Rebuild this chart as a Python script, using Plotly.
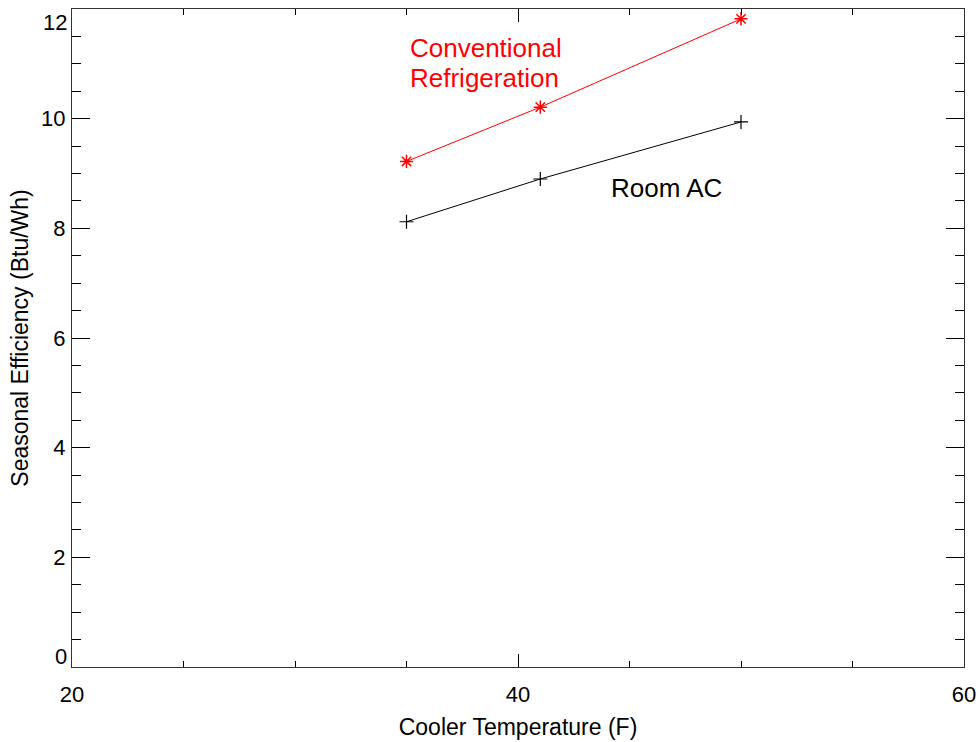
import plotly.graph_objects as go

temps = [35, 41, 50]
conventional = [9.22, 10.21, 11.82]
room_ac = [8.12, 8.9, 9.94]

y_ticks = [0, 2, 4, 6, 8, 10, 12]
x_ticks = [20, 40, 60]

label_conv_lines = ["Conventional", "Refrigeration"]
label_room = "Room AC"

FONT = "Liberation Sans, Arial, Helvetica, sans-serif"

fig = go.Figure()
fig.add_trace(go.Scatter(
    x=temps, y=conventional, mode="lines+markers",
    line=dict(color="red", width=1),
    marker=dict(symbol="asterisk-open", size=11, color="red", line=dict(color="red", width=1.5)),
    showlegend=False, hoverinfo="x+y"))
fig.add_trace(go.Scatter(
    x=temps, y=room_ac, mode="lines+markers",
    line=dict(color="black", width=1),
    marker=dict(symbol="cross-thin-open", size=10, color="black", line=dict(color="black", width=1.2)),
    showlegend=False, hoverinfo="x+y"))

for i, txt in enumerate(label_conv_lines):
    fig.add_annotation(x=35.05, y=11.29 - 0.55 * i, xref="x", yref="y", text=txt, showarrow=False,
                       xanchor="left", yanchor="middle", align="left",
                       font=dict(family=FONT, size=26, color="red"))
fig.add_annotation(x=44.1, y=8.74, xref="x", yref="y", text=label_room, showarrow=False,
                   xanchor="left", yanchor="middle", align="left",
                   font=dict(family=FONT, size=26, color="black"))

# end tick labels of the y axis sit inside the axis span (as in the reference)
y_min, y_max = y_ticks[0], y_ticks[-1]
fig.add_annotation(x=0, y=y_max, xref="paper", yref="y", text=str(y_max), showarrow=False,
                   xanchor="right", yanchor="top", xshift=-3, yshift=1,
                   font=dict(family=FONT, size=22, color="black"))
fig.add_annotation(x=0, y=y_min, xref="paper", yref="y", text=str(y_min), showarrow=False,
                   xanchor="right", yanchor="bottom", xshift=-3, yshift=-4,
                   font=dict(family=FONT, size=22, color="black"))
y_ticktext = ["" if v in (y_min, y_max) else str(v) for v in y_ticks]

axis_common = dict(
    showgrid=False, zeroline=False, showline=True, linecolor="#333", linewidth=1,
    mirror="ticks", ticks="inside", tickcolor="black", tickwidth=1,
    tickfont=dict(family=FONT, size=22, color="black"),
    automargin=False, ticklabeloverflow="allow",
)

fig.update_xaxes(range=[20, 60], tickvals=x_ticks, ticklen=13,
                 minor=dict(dtick=5, ticklen=6, ticks="inside", tickcolor="black"),
                 title=dict(text="Cooler Temperature (F)", font=dict(family=FONT, size=23, color="black"), standoff=12),
                 ticklabelstandoff=8, **axis_common)
fig.update_yaxes(range=[0, 12], tickvals=y_ticks, ticktext=y_ticktext, ticklen=18,
                 minor=dict(dtick=0.5, ticklen=9, ticks="inside", tickcolor="black"),
                 title=dict(text="Seasonal Efficiency (Btu/Wh)", font=dict(family=FONT, size=23, color="black"), standoff=6),
                 ticklabelstandoff=1, **axis_common)

fig.update_layout(
    width=978, height=742,
    margin=dict(l=72, r=14, t=9, b=75),
    plot_bgcolor="white", paper_bgcolor="white",
    font=dict(family=FONT, color="black"),
)

fig.write_html("out.html", config={"displayModeBar": False},
               post_script="document.body.style.margin='0px';document.body.style.overflow='hidden';")
